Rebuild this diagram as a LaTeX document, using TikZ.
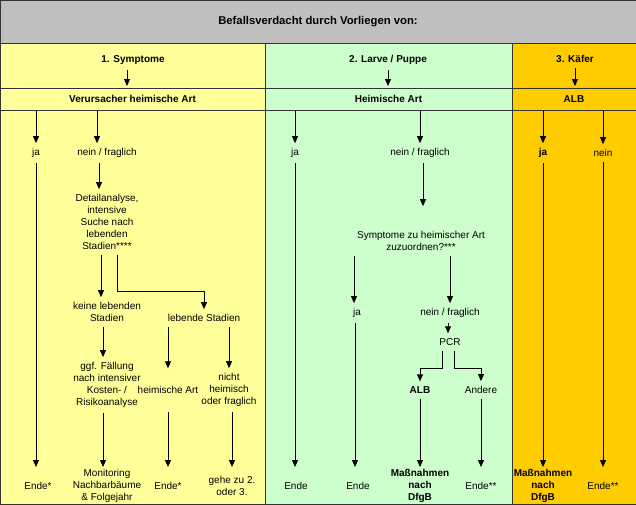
\documentclass[tikz,border=0pt]{standalone}
\usepackage{fontspec}
\setmainfont{Liberation Sans}
\usetikzlibrary{arrows.meta,positioning,calc}
\definecolor{grau}{HTML}{C0C0C0}
\definecolor{gelb}{HTML}{FFFF99}
\definecolor{gruen}{HTML}{CCFFCC}
\definecolor{kaefer}{HTML}{FFCC00}
\definecolor{rahmen}{HTML}{333333}
\tikzset{
  zelle/.style={draw=rahmen, line width=1pt, inner sep=0pt, outer sep=0pt, anchor=north west, font=\fontsize{10}{12}\selectfont\bfseries},
  txt/.style={font=\fontsize{10}{12}\selectfont, align=center, inner xsep=2pt, inner ysep=5pt},
  fett/.style={txt, font=\fontsize{10}{12}\selectfont\bfseries},
  ende/.style={txt, anchor=north, minimum height=38pt, inner ysep=0pt},
  pfeil/.style={-{Triangle[width=6pt,length=7pt]}, line width=0.8pt}
}

\begin{document}
\begin{tikzpicture}[x=1pt,y=-1pt]
\useasboundingbox (0,0) rectangle (636,504);

\node[zelle, fill=grau, minimum width=636pt, minimum height=43pt, font=\fontsize{11.3}{13}\selectfont\bfseries] (titel) at (0,0) {Befallsverdacht durch Vorliegen von:};

\node[zelle, fill=gelb, minimum width=265pt, minimum height=45pt] (k1) at (0,43) {};
\node[zelle, fill=gruen, minimum width=247pt, minimum height=45pt] (k2) at (265,43) {};
\node[zelle, fill=kaefer, minimum width=124pt, minimum height=45pt] (k3) at (512,43) {};

\node[zelle, fill=gelb, minimum width=265pt, minimum height=22pt] (s1) at (0,88) {Verursacher heimische Art};
\node[zelle, fill=gruen, minimum width=247pt, minimum height=22pt] (s2) at (265,88) {Heimische Art};
\node[zelle, fill=kaefer, minimum width=124pt, minimum height=22pt] (s3) at (512,88) {ALB};

\node[zelle, fill=gelb, minimum width=265pt, minimum height=394pt] (b1) at (0,110) {};
\node[zelle, fill=gruen, minimum width=247pt, minimum height=394pt] (b2) at (265,110) {};
\node[zelle, fill=kaefer, minimum width=124pt, minimum height=394pt] (b3) at (512,110) {};

\node[fett] (h1) at (133,60) {1. Symptome};
\node[fett] (h2) at (388,60) {2. Larve / Puppe};
\node[fett] (h3) at (575,59) {3. Käfer};
\draw[pfeil, shorten >=2pt] ([xshift=-6pt]h1.south) -- ([xshift=-6pt]h1.south |- s1.north);
\draw[pfeil, shorten >=2pt] (h2.south) -- (h2.south |- s2.north);
\draw[pfeil, shorten >=2pt] (h3.south) -- (h3.south |- s3.north);

% 1. Symptome
\node[txt] (ja1) at (36,153) {ja};
\node[txt] (nf1) at (107,153) {nein / fraglich};
\node[txt] (det) at (107,222) {Detailanalyse,\\intensive\\Suche nach\\lebenden\\Stadien****};
\node[txt] (kl) at (107,312) {keine lebenden\\Stadien};
\node[txt] (ls) at (204,318) {lebende Stadien};
\node[txt] (ggf) at (107,385) {ggf. Fällung\\nach intensiver\\Kosten- /\\Risikoanalyse};
\node[txt, minimum height=43pt] (ha) at (168,390) {heimische Art};
\node[txt] (nh) at (229,390) {nicht\\heimisch\\oder fraglich};
\node[ende] (e1) at (38,467) {Ende*};
\node[ende] (mon) at (107,467) {Monitoring\\Nachbarbäume\\\& Folgejahr};
\node[ende] (e2) at (168,467) {Ende*};
\node[ende] (geh) at (232,467) {gehe zu 2.\\oder 3.};

\draw[pfeil] (s1.south -| ja1) -- (ja1.north);
\draw[pfeil] ([xshift=-10pt]nf1.north |- s1.south) -- ([xshift=-10pt]nf1.north);
\draw[pfeil] ([xshift=-8pt]nf1.south) -- ([xshift=-8pt]nf1.south |- det.north);
\draw[pfeil] ([xshift=-6pt]det.south) -- ([xshift=-6pt]det.south |- kl.north);
\draw[pfeil] ([xshift=10pt]det.south) -- ++(0,37) -| (ls.north);
\draw[pfeil] ([xshift=-4pt]kl.south) -- ([xshift=-4pt]kl.south |- ggf.north);
\draw[pfeil] ([xshift=-4pt]ggf.south) -- ([xshift=-4pt]ggf.south |- mon.north);
\draw[pfeil] (ls.south -| ha) -- (ha.north);
\draw[pfeil] (ls.south -| nh) -- (nh.north);
\draw[pfeil] (ha.south) -- (e2.north);
\draw[pfeil] (nh.south -| geh) -- (geh.north);
\draw[pfeil] (ja1.south) -- (ja1.south |- e1.north);

% 2. Larve / Puppe
\node[txt] (ja2) at (295,153) {ja};
\node[txt] (nf2) at (420,153) {nein / fraglich};
\node[txt] (sym) at (421,241) {Symptome zu heimischer Art\\zuzuordnen?***};
\node[txt] (ja3) at (357,313) {ja};
\node[txt] (nf3) at (450,313) {nein / fraglich};
\node[txt] (pcr) at (450,342) {PCR};
\node[fett] (alb) at (420,390) {ALB};
\node[txt] (and) at (481,390) {Andere};
\node[ende] (e3) at (296,467) {Ende};
\node[ende] (e4) at (358,467) {Ende};
\node[ende, font=\fontsize{10}{12}\selectfont\bfseries] (mas1) at (420,467) {Maßnahmen\\nach\\DfgB};
\node[ende] (e5) at (481,467) {Ende**};

\draw[pfeil] (s2.south -| ja2) -- (ja2.north);
\draw[pfeil] (s2.south -| nf2) -- (nf2.north);
\draw[pfeil, shorten >=20pt] ([xshift=3pt]nf2.south) -- ([xshift=3pt]nf2.south |- sym.north);
\draw[pfeil] ([xshift=-3pt]sym.south -| ja3) -- ([xshift=-3pt]ja3.north);
\draw[pfeil] (sym.south -| nf3) -- (nf3.north);
\draw[pfeil] ([xshift=-2pt]nf3.south) -- ([xshift=-2pt]pcr.north);
\draw[pfeil] ([xshift=-8pt]pcr.south) -- ++(0,18) -| (alb.north);
\draw[pfeil] ([xshift=4pt]pcr.south) -- ++(0,18) -| (and.north);
\draw[pfeil] (alb.south) -- (mas1.north);
\draw[pfeil] (and.south) -- (e5.north);
\draw[pfeil] (ja2.south) -- (ja2.south |- e3.north);
\draw[pfeil] ([xshift=-2pt]ja3.south) -- ([xshift=-2pt]ja3.south |- e4.north);

% 3. Kaefer
\node[fett] (ja4) at (543,153) {ja};
\node[txt] (nein4) at (603,153) {nein};
\node[ende, font=\fontsize{10}{12}\selectfont\bfseries] (mas2) at (543,467) {Maßnahmen\\nach\\DfgB};
\node[ende] (e6) at (603,467) {Ende**};

\draw[pfeil] (s3.south -| ja4) -- (ja4.north);
\draw[pfeil] (s3.south -| nein4) -- (nein4.north);
\draw[pfeil] (ja4.south) -- (mas2.north);
\draw[pfeil] (nein4.south) -- (e6.north);
\end{tikzpicture}
\end{document}
